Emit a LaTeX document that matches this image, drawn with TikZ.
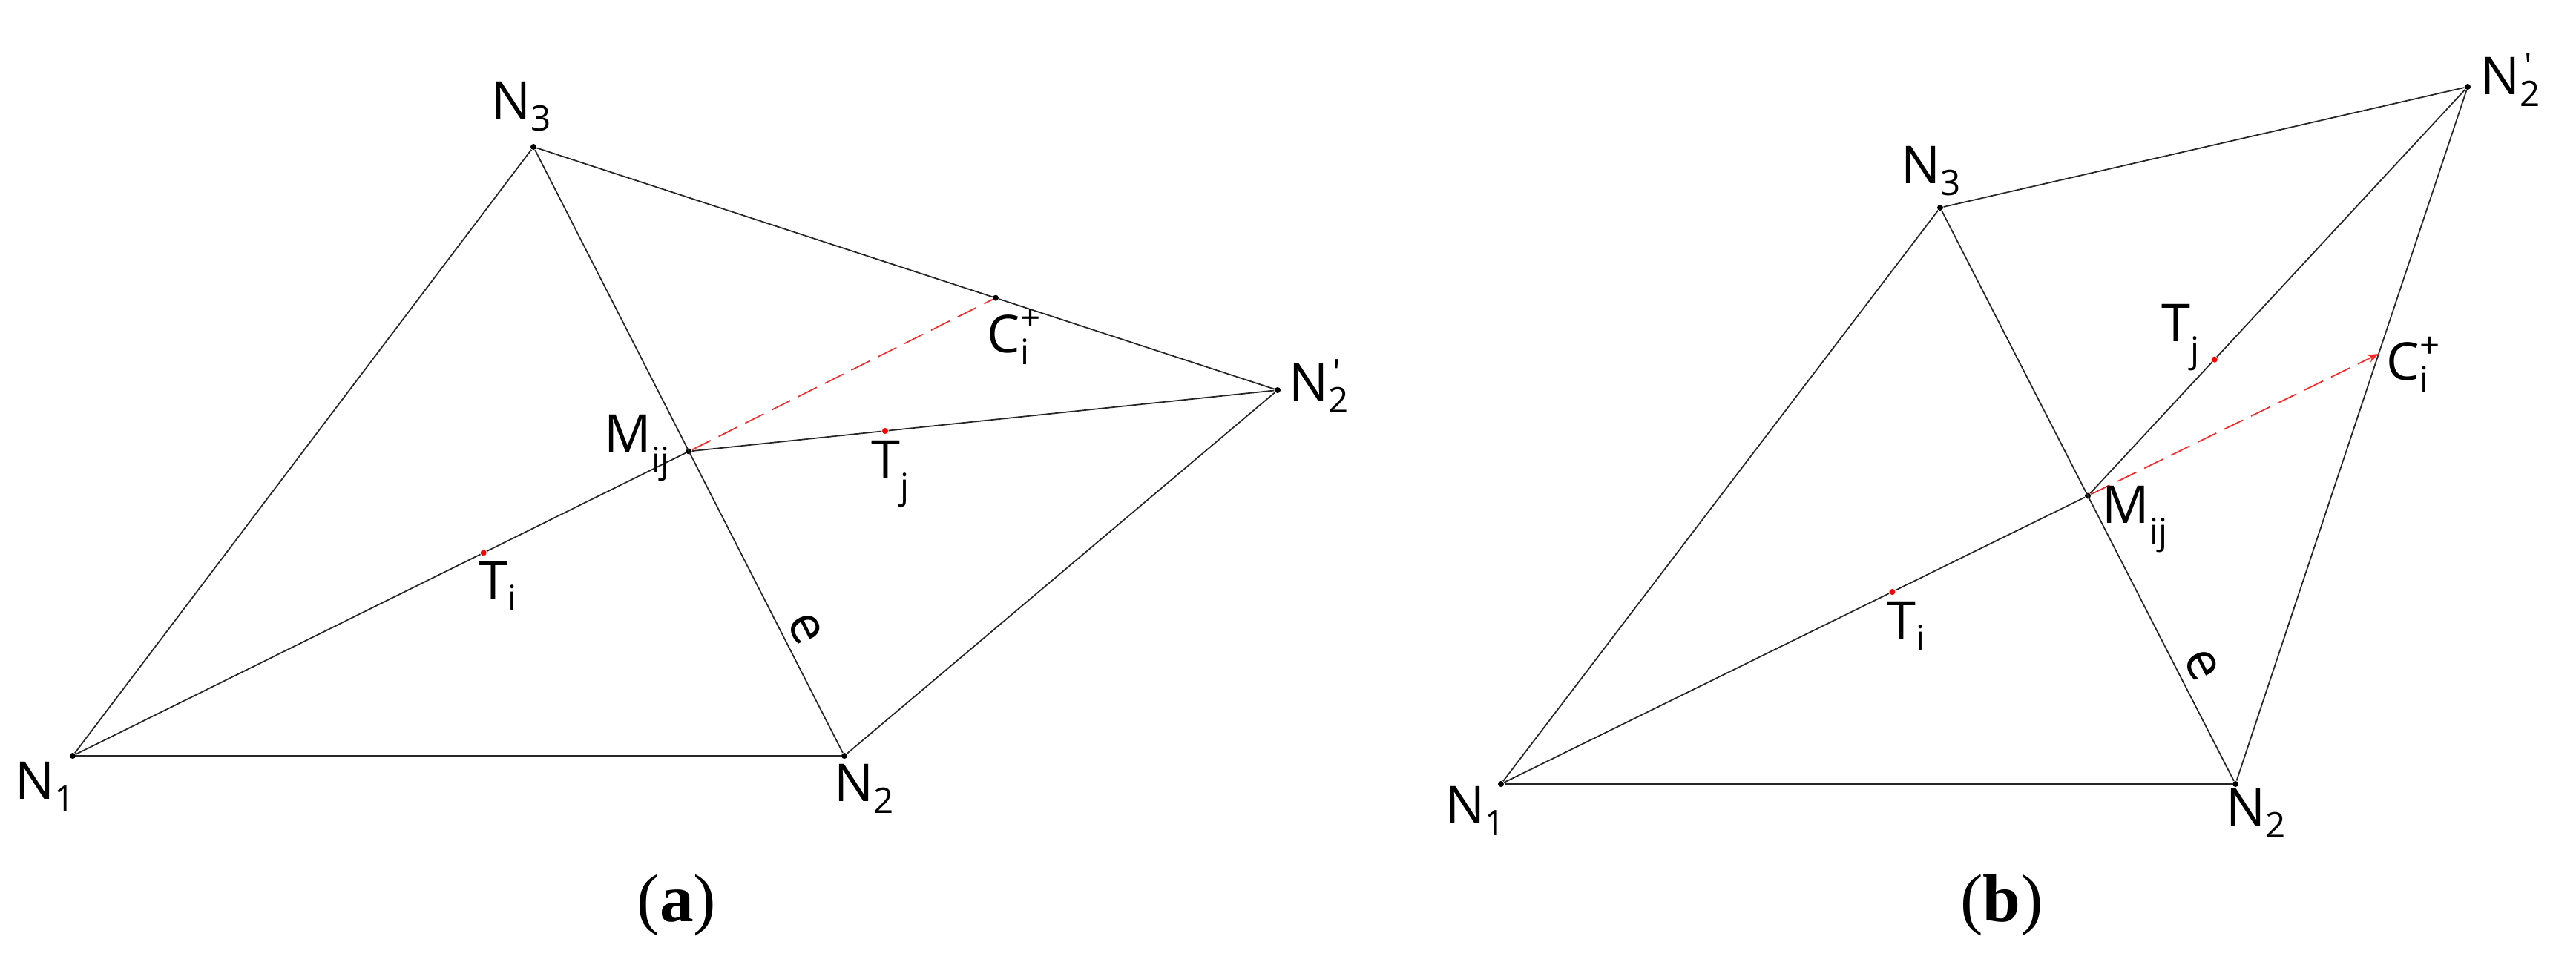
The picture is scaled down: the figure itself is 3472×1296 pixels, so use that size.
\documentclass[tikz,border=0pt]{standalone}
\usepackage{fontspec}
\setmainfont{Open Sans}
\newfontfamily\primefont[Ligatures=TeXOff]{Open Sans}
\newfontfamily\capfont{Liberation Serif}
\usetikzlibrary{arrows.meta}
\newcommand\lblsub[1]{\raisebox{-4.6pt}{\fontsize{13.5}{14}\selectfont #1}}
\newcommand\lblsubd[1]{\raisebox{-8pt}{\fontsize{13.5}{14}\selectfont #1}}
\newcommand\lblsupsub[3]{\makebox[0pt][l]{\raisebox{#3}{\fontsize{13.5}{14}\selectfont #1}}\raisebox{-4.6pt}{\fontsize{13.5}{14}\selectfont #2}}
\newcommand\primemark{\hspace{1.5pt}{\primefont\symbol{39}}}
\definecolor{dashcol}{RGB}{255,40,40}
\tikzset{
  edgeline/.style={line width=0.5pt, draw=black!85},
  vdot/.style={circle, fill=black, inner sep=0pt, minimum size=0.08cm},
  rdot/.style={circle, fill=red, inner sep=0pt, minimum size=0.08cm},
  lbl/.style={anchor=base west, inner sep=0pt, font=\fontsize{20}{24}\selectfont},
  elbl/.style={inner sep=0pt, font=\fontsize{20}{24}\selectfont, rotate=-63},
  dashred/.style={draw=dashcol, line width=0.5pt, dash pattern=on 0.28cm off 0.12cm},
  caplbl/.style={anchor=base, inner sep=0pt, font=\capfont\fontsize{26}{30}\selectfont}
}
\begin{document}
\begin{tikzpicture}[x=0.01cm, y=-0.01cm]
\useasboundingbox (0,0) rectangle (3472,1296);
% ---------- (a) ----------
\node[vdot] (aN1) at (98,1019) {};
\node[vdot] (aN2) at (1138,1019) {};
\node[vdot] (aN3) at (719,198) {};
\node[vdot] (aN2p) at (1722,526) {};
\node[vdot] (aM) at (928.5,608.5) {};
\node[vdot] (aC) at (1342,401.7) {};
\node[rdot] (aTi) at (651.7,745.3) {};
\node[rdot] (aTj) at (1193,581) {};
\draw[edgeline] (aN1) -- (aN2);
\draw[edgeline] (aN1) -- (aN3);
\draw[edgeline] (aN3) -- (aN2);
\draw[edgeline] (aN3) -- (aC) -- (aN2p);
\draw[edgeline] (aN2p) -- (aN2);
\draw[edgeline] (aN1) -- (aTi) -- (aM);
\draw[edgeline] (aM) -- (aTj) -- (aN2p);
\draw[dashred] (aM) -- (aC);
\node[lbl] (laN1) at (20,1077) {N\lblsub{1}};
\node[lbl] (laN2) at (1124,1080) {N\lblsub{2}};
\node[lbl] (laN3) at (662,160) {N\lblsub{3}};
\node[lbl] (laN2p) at (1737,540) {N\lblsupsub{\primemark}{2}{6.2pt}};
\node[lbl] (laM) at (814,609) {M\lblsubd{ij}};
\node[lbl] (laC) at (1330,475) {C\lblsupsub{+}{i}{8.5pt}};
\node[lbl] (laTi) at (645,807) {T\lblsub{i}};
\node[lbl] (laTj) at (1174,644) {T\lblsubd{j}};
\node[elbl] (lae) at (1085,848) {e};
\node[caplbl] (capa) at (912,1242) {(\textbf{a})};
% ---------- (b) ----------
\node[vdot] (bN1) at (2023,1057) {};
\node[vdot] (bN2) at (3013,1057) {};
\node[vdot] (bN3) at (2615,280) {};
\node[vdot] (bN2p) at (3326,117) {};
\node[vdot] (bM) at (2814,668.5) {};
\coordinate (bC) at (3206,477);
\node[rdot] (bTi) at (2550.3,798) {};
\node[rdot] (bTj) at (2984.7,484.7) {};
\draw[edgeline] (bN1) -- (bN2);
\draw[edgeline] (bN1) -- (bN3);
\draw[edgeline] (bN3) -- (bN2);
\draw[edgeline] (bN3) -- (bN2p);
\draw[edgeline] (bN2p) -- (bC) -- (bN2);
\draw[edgeline] (bN1) -- (bTi) -- (bM);
\draw[edgeline] (bM) -- (bTj) -- (bN2p);
\draw[dashred, -{Stealth[length=0.15cm, width=0.11cm]}] (bM) -- (bC);
\node[lbl] (lbN1) at (1948,1110) {N\lblsub{1}};
\node[lbl] (lbN2) at (3000,1113) {N\lblsub{2}};
\node[lbl] (lbN3) at (2562,247) {N\lblsub{3}};
\node[lbl] (lbN2p) at (3343,127) {N\lblsupsub{\primemark}{2}{6.2pt}};
\node[lbl] (lbM) at (2833,705) {M\lblsubd{ij}};
\node[lbl] (lbC) at (3216,512) {C\lblsupsub{+}{i}{8.5pt}};
\node[lbl] (lbTi) at (2543,861) {T\lblsub{i}};
\node[lbl] (lbTj) at (2913,460) {T\lblsubd{j}};
\node[elbl] (lbe) at (2967,897) {e};
\node[caplbl] (capb) at (2698,1242) {(\textbf{b})};
\end{tikzpicture}
\end{document}
